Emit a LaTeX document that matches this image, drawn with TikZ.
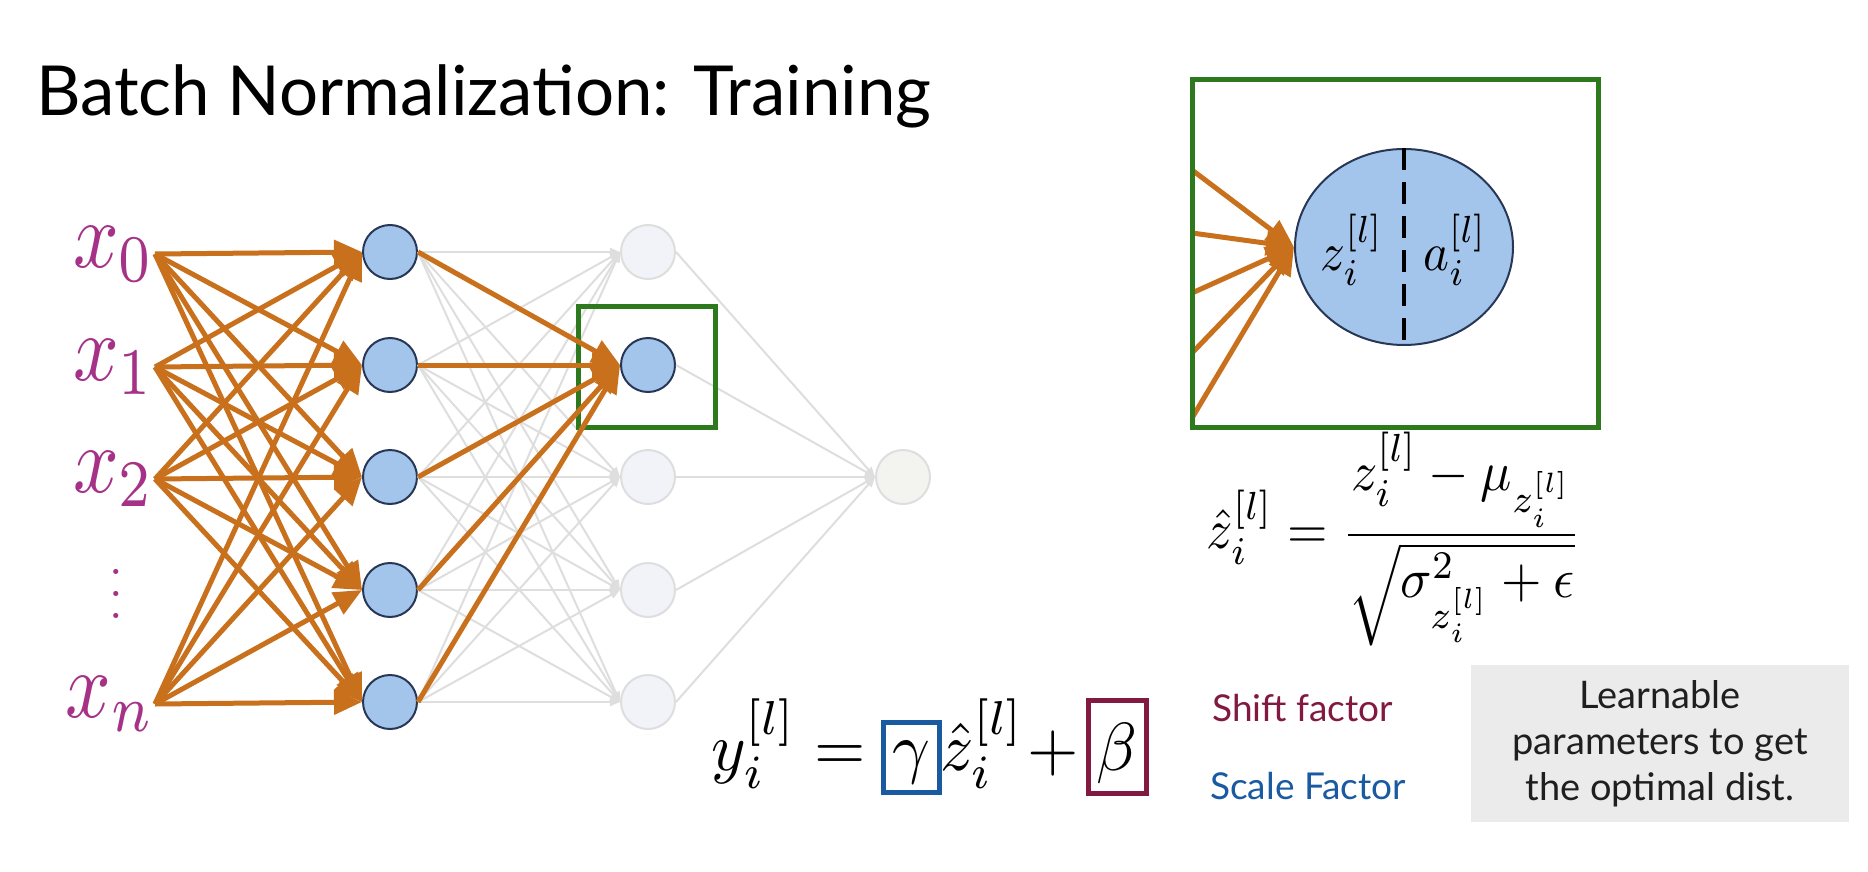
\documentclass[tikz,border=0pt]{standalone}
\usepackage{graphicx}
\usepackage{fontspec}
\newfontfamily\lato{Lato}
\usetikzlibrary{arrows.meta,shapes.geometric}
\definecolor{orng}{RGB}{200,112,28}
\definecolor{grn}{RGB}{45,122,30}
\definecolor{nodefill}{RGB}{163,197,235}
\definecolor{nodeline}{RGB}{40,55,85}
\definecolor{inpcol}{RGB}{165,50,135}
\definecolor{faint}{RGB}{222,222,222}
\definecolor{faintfill}{RGB}{241,243,249}
\definecolor{outfill}{RGB}{243,243,240}
\definecolor{scaleblue}{RGB}{25,90,160}
\definecolor{shiftred}{RGB}{130,25,65}
\definecolor{graybox}{RGB}{235,235,235}
\newcommand\fs[1]{\fontsize{#1}{#1}\selectfont}
\newcommand\mbig[3]{\scalebox{#1}[#2]{$#3$}}
\tikzset{
  neuron/.style={circle, minimum size=54pt, inner sep=0pt, fill=nodefill, draw=nodeline, line width=2pt},
  ghost/.style={circle, minimum size=54pt, inner sep=0pt, fill=faintfill, draw=faint, line width=2pt},
  feed/.style={orng, line width=5pt, -{Triangle[length=28pt,width=24pt]}},
  faintline/.style={faint, line width=2pt, -{Triangle[length=10pt,width=8pt]}},
  inlabel/.style={anchor=east, inner sep=0pt, text=inpcol},
  greenbox/.style={draw=grn, line width=5pt, inner sep=0pt},
  lato/.style={font={\lato\fs{#1}}},
}
\begin{document}
\begin{tikzpicture}[x=1pt,y=-1pt]
\useasboundingbox (0,0) rectangle (1868,872);
\fill[white] (0,0) rectangle (1868,872);

% title
\node[anchor=base west, inner sep=0pt, lato=69] (title) at (36,116) {Batch Normalization: Training};

% inputs
\node[inlabel] (x0) at (155,254) {\mbig{8}{9.5}{x_0}};
\node[inlabel] (x1) at (155,367) {\mbig{8}{9.5}{x_1}};
\node[inlabel] (x2) at (155,479) {\mbig{8}{9.5}{x_2}};
\node[inlabel] (xn) at (155,704) {\mbig{8}{9.5}{x_n}};
\node[text=inpcol, inner sep=0pt, font=\fs{62}] (xd) at (116,594) {\vbox{\baselineskip=22pt\hbox{.}\hbox{.}\hbox{.}}};

% layer 1
\foreach \i/\y in {1/252,2/365,3/477,4/590,5/702}
  \node[neuron] (a\i) at (390,\y) {};
% layer 2
\node[ghost] (b1) at (648,252) {};
\node[neuron] (b2) at (648,365) {};
\node[ghost] (b3) at (648,477) {};
\node[ghost] (b4) at (648,590) {};
\node[ghost] (b5) at (648,702) {};
% output
\node[ghost, fill=outfill] (out) at (903,477) {};

% faint connections
\foreach \i in {1,...,5}
  \foreach \j in {1,...,5}
    \draw[faintline] (a\i.east) -- (b\j.west);
\foreach \j in {1,...,5}
  \draw[faintline] (b\j.east) -- (out.west);

% highlight box
\node[greenbox, minimum width=137pt, minimum height=121pt] (hl) at (646.5,366.5) {};

% orange feed arrows
\foreach \s in {x0,x1,x2,xn}
  \foreach \j in {1,...,5}
    \draw[feed] (\s.east) -- (a\j.west);
\foreach \i in {1,...,5}
  \draw[feed] (a\i.east) -- (b2.west);

% inset
\node[ellipse, fill=nodefill, draw=nodeline, line width=2pt, minimum width=218pt, minimum height=196pt, inner sep=0pt] (bign) at (1404,247) {};
\draw[line width=4pt, dash pattern=on 22pt off 12pt] (bign.north) -- (bign.south);
\node (zl) at (1352,250) {\mbig{4.9}{5.4}{z_i^{[l]}}};
\node (al) at (1455,250) {\mbig{4.9}{5.4}{a_i^{[l]}}};
\coordinate (e1) at (1192,170);
\coordinate (e2) at (1192,233);
\coordinate (e3) at (1192,293);
\coordinate (e4) at (1192,353);
\coordinate (e5) at (1192,418);
\foreach \k in {1,...,5}
  \draw[feed] (e\k) -- (bign.west);
\node[greenbox, minimum width=406pt, minimum height=347pt] (inset) at (1395,253.5) {};

% normalization formula
\node[inner sep=0pt] (norm) at (1394,539)
  {\mbig{5.2}{5.6}{\displaystyle \hat z_i^{[l]} = \frac{z_i^{[l]} - \mu_{z_i^{[l]}}}{\sqrt{\sigma^2_{z_i^{[l]}} + \epsilon}}}};

% scale and shift equation
\node[anchor=base west, inner sep=0pt] (lhs) at (711,770) {\mbig{6.6}{6.8}{y_i^{[l]} =}};
\node[draw=scaleblue, line width=5pt, inner sep=0pt, minimum width=56pt, text height=48pt, text depth=22pt, anchor=base] (gam) at (911,770) {\mbig{6.6}{6.8}{\gamma}};
\node[anchor=base west, inner sep=0pt] (zh) at (940,770) {\mbig{6.6}{6.8}{\hat z_i^{[l]}\kern0.6pt+}};
\node[draw=shiftred, line width=5pt, inner sep=0pt, minimum width=58pt, text height=70pt, text depth=23pt, anchor=base] (bet) at (1117,770) {\mbig{6.6}{6.8}{\beta}};

% labels
\node[anchor=west, inner sep=0pt, text=shiftred, lato=37] (shift) at (1212,708) {Shift factor};
\node[anchor=west, inner sep=0pt, text=scaleblue, lato=37] (scale) at (1210,786) {Scale Factor};
\node[fill=graybox, minimum width=378pt, minimum height=157pt, align=center, text=black!88, font={\lato\fontsize{38}{46}\selectfont}] (learn) at (1660,743.5) {Learnable\\parameters to get\\the optimal dist.};
\end{tikzpicture}
\end{document}
